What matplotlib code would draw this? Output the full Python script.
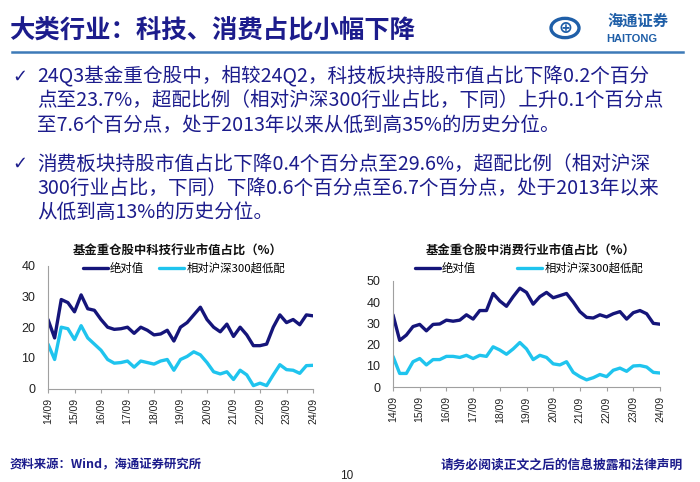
import matplotlib.pyplot as plt
import matplotlib.patches as mpatches
from matplotlib.lines import Line2D

plt.rcParams['font.family'] = ['Noto Sans CJK SC', 'DejaVu Sans']

# 季度数据：14Q3 -> 24Q3
quarters = [f"{y}Q{q}" for y in range(14, 25) for q in range(1, 5)][2:43]
xtick_labels = [f"{y}/09" for y in range(14, 25)]

tech_abs = [22.5, 16.5, 29, 28, 25, 30.5, 26, 25.5, 22.5, 20, 19.3, 19.5, 20, 18,
            20, 19, 17.5, 17.8, 19, 15.5, 20, 21.5, 24, 26.5, 22.5, 20, 18.5, 21,
            17, 20, 17.5, 14, 14, 14.5, 20, 24, 21.5, 22.5, 20.8, 24, 23.7]
tech_rel = [14.5, 9.5, 20, 19.5, 16, 20.5, 16.5, 14.5, 12.5, 9.5, 8.3, 8.5, 9, 7,
            9, 8.5, 8, 9, 9.5, 6, 9.5, 10.5, 12, 11, 8.5, 5.5, 4.8, 5.5, 3, 6,
            4.5, 1, 1.8, 1, 4.5, 7.8, 6.2, 6, 5, 7.5, 7.6]
cons_abs = [34, 22, 24.5, 28.5, 29.5, 26.5, 29.5, 29.7, 31.5, 31, 31.5, 34, 32, 36,
            36, 44, 40.5, 38, 42.5, 46.5, 44.5, 39, 42.5, 44.5, 42, 43, 44, 40,
            35.5, 32.8, 32.5, 34, 33, 34.5, 35.5, 32, 35, 36, 34.5, 30, 29.6]
cons_rel = [14.5, 6.5, 6.5, 12, 13.5, 10.5, 13, 13, 14.5, 14.5, 14, 15, 13.5, 15,
            14.5, 19, 17.5, 15.5, 18, 21, 18, 13, 15, 14, 11, 10.5, 12, 7, 5,
            3.5, 4.5, 6, 5, 8, 9, 7.5, 10, 10.2, 9.5, 7, 6.7]

navy = '#15157a'
cyan = '#1fc4ee'
text_color = '#1c1c8c'

fig = plt.figure(figsize=(7, 4.82), dpi=100)

# 标题
fig.text(9 / 700, 1 - 30 / 482, '大类行业：科技、消费占比小幅下降', fontsize=18.3,
         color=text_color, va='center', ha='left', weight='bold')
fig.add_artist(Line2D([12 / 700, 683 / 700], [1 - 52 / 482, 1 - 52 / 482],
                      color='#3d7ab8', lw=1.8))

# logo
fig.add_artist(mpatches.Circle((565 / 700, 1 - 28 / 482), 0.02, transform=fig.transFigure,
                               fill=False, ec='#1f5fa8', lw=2.4))
fig.text(565 / 700, 1 - 28 / 482, '⊕', fontsize=12, color='#1f5fa8', ha='center', va='center',
         family=['DejaVu Sans'], weight='bold')
fig.text(638 / 700, 1 - 21 / 482, '海通证券', fontsize=11, color='#1f5fa8',
         ha='center', va='center', style='italic', weight='bold')
fig.text(632 / 700, 1 - 39 / 482, 'HAITONG', fontsize=8, color='#1f5fa8',
         ha='center', va='center', weight='bold', family=['Liberation Sans'])

# 正文
bullets = [
    ['24Q3基金重仓股中，相较24Q2，科技板块持股市值占比下降0.2个百分',
     '点至23.7%，超配比例（相对沪深300行业占比，下同）上升0.1个百分点',
     '至7.6个百分点，处于2013年以来从低到高35%的历史分位。'],
    ['消费板块持股市值占比下降0.4个百分点至29.6%，超配比例（相对沪深',
     '300行业占比，下同）下降0.6个百分点至6.7个百分点，处于2013年以来',
     '从低到高13%的历史分位。'],
]
starts = [77, 164]
for lines, y0 in zip(bullets, starts):
    fig.text(12 / 700, 1 - y0 / 482, '✓', fontsize=13, color=text_color, va='center',
             family=['DejaVu Sans'])
    for i, line in enumerate(lines):
        fig.text(37 / 700, 1 - (y0 + 24 * i) / 482, line, fontsize=14.1,
                 color=text_color, va='center')


def draw_panel(rect, abs_vals, rel_vals, ymax, title, title_x, legend_x, colsp):
    ax = fig.add_axes(rect)
    x = list(range(len(abs_vals)))
    ax.plot(x, abs_vals, color=navy, lw=2.4, solid_joinstyle='round', solid_capstyle='round',
            label='绝对值')
    ax.plot(x, rel_vals, color=cyan, lw=2.4, solid_joinstyle='round', solid_capstyle='round',
            label='相对沪深300超低配')
    ax.set_xlim(0, len(abs_vals) - 1)
    ax.set_ylim(0, ymax)
    ax.set_yticks(range(0, ymax + 1, 10))
    ax.set_xticks(range(0, len(abs_vals), 4))
    ax.set_xticklabels(xtick_labels, rotation=90, fontsize=7.5, family=['Liberation Sans'])
    for lab in ax.get_yticklabels():
        lab.set_family(['Liberation Sans'])
        lab.set_fontsize(9)
    for s in ['top', 'right']:
        ax.spines[s].set_visible(False)
    for s in ['left', 'bottom']:
        ax.spines[s].set_color('#a0a0a0')
        ax.spines[s].set_linewidth(0.8)
    ax.tick_params(axis='both', colors='#a0a0a0', labelcolor='#222222', length=3, width=0.8)
    ax.tick_params(axis='y', length=0, pad=9)
    fig.text(title_x, 1 - 251 / 482, title, fontsize=8.9, weight='bold', ha='center',
             va='center', color='#111111')
    ax.legend(loc='center left', bbox_to_anchor=(legend_x, 1 - 268 / 482),
              bbox_transform=fig.transFigure, ncol=2, frameon=False, fontsize=8.2,
              handlelength=2.2, handletextpad=0.2, columnspacing=colsp, borderpad=0)
    return ax


draw_panel([48 / 700, 1 - 388.7 / 482, 265 / 700, 123 / 482], tech_abs, tech_rel, 40,
           '基金重仓股中科技行业市值占比（%）', 178 / 700, 77 / 700, 1.3)
draw_panel([393 / 700, 1 - 387.3 / 482, 267 / 700, 106.6 / 482], cons_abs, cons_rel, 50,
           '基金重仓股中消费行业市值占比（%）', 531 / 700, 409 / 700, 3.6)

# 页脚
fig.text(10 / 700, 1 - 465 / 482, '资料来源：Wind，海通证券研究所', fontsize=8.9,
         color=text_color, weight='bold', va='center')
fig.text(683 / 700, 1 - 465 / 482, '请务必阅读正文之后的信息披露和法律声明', fontsize=9.2,
         color=text_color, weight='bold', va='center', ha='right')
fig.text(347 / 700, 1 - 476 / 482, '10', fontsize=8.5, color='#222222', va='center',
         ha='center', family=['Liberation Sans'])

fig.savefig('out.png', dpi=100)
